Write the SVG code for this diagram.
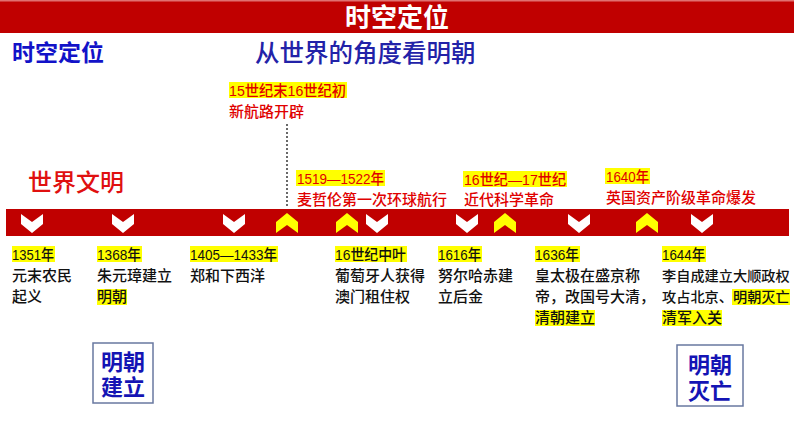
<svg xmlns="http://www.w3.org/2000/svg" xmlns:xlink="http://www.w3.org/1999/xlink" width="794" height="447" viewBox="0 0 794 447">
  <style>
    text { font-family: "Liberation Sans", "Noto Sans CJK SC", sans-serif; }
    .hdr { font-size: 26px; font-weight: bold; fill: #ffffff; }
    .blueB { font-size: 23px; font-weight: bold; fill: #1212c8; }
    .blueT { font-size: 24.5px; font-weight: 500; fill: #2222a8; }
    .world { font-size: 24px; font-weight: 500; fill: #e01010; }
    .red { font-size: 15px; font-weight: 500; fill: #e00000; }
    .blk { font-size: 15px; font-weight: 500; fill: #111111; }
    .blkS { font-size: 14.2px; font-weight: 500; fill: #111111; }
    .hl { fill: #ffff00; }
    .box { fill: #ffffff; stroke: #6878a0; stroke-width: 1.5; }
    .boxT { font-size: 22px; font-weight: bold; fill: #1414b4; }
    .band { fill: #c00000; }
    .dot { stroke: #444444; stroke-width: 1.6; stroke-dasharray: 2 2; fill: none; }
  </style>
  <defs>
    <path id="down" d="M-11,0 L0,8 L11,0 L11,10 L0,19 L-11,10 Z" fill="#ffffff"/>
    <path id="up" d="M0,0 L11,9 L11,20 L0,12 L-11,20 L-11,9 Z" fill="#ffff00"/>
  </defs>

  <rect x="0" y="0" width="794" height="447" fill="#ffffff"/>

  <g id="header">
    <rect x="0" y="0" width="794" height="33" fill="#c00000"/>
    <rect x="0" y="0" width="794" height="1.5" fill="#e07070"/>
    <text class="hdr" x="397" y="27" text-anchor="middle">时空定位</text>
  </g>

  <g id="titles">
    <text class="blueB" x="12" y="61">时空定位</text>
    <text class="blueT" x="255" y="62">从世界的角度看明朝</text>
    <text class="world" x="28" y="191">世界文明</text>
  </g>

  <g id="timeline">
    <rect class="band" x="6" y="209" width="783" height="27"/>
    <use xlink:href="#down" x="32" y="214"/>
    <use xlink:href="#down" x="123" y="214"/>
    <use xlink:href="#down" x="234" y="214"/>
    <use xlink:href="#down" x="377" y="214"/>
    <use xlink:href="#down" x="467" y="214"/>
    <use xlink:href="#down" x="579" y="214"/>
    <use xlink:href="#down" x="702" y="214"/>
    <use xlink:href="#up" x="287" y="213"/>
    <use xlink:href="#up" x="347" y="213"/>
    <use xlink:href="#up" x="505" y="213"/>
    <use xlink:href="#up" x="647" y="213"/>
  </g>

  <g id="connectors">
    <line class="dot" x1="287" y1="124" x2="287" y2="206"/>
  </g>

  <g id="w-new-route">
    <rect class="hl" x="229" y="82" width="118" height="16"/>
    <text class="red" x="229" y="96" textLength="117" lengthAdjust="spacingAndGlyphs">15世纪末16世纪初</text>
    <text class="red" x="229" y="117">新航路开辟</text>
  </g>
  <g id="w-magellan">
    <rect class="hl" x="296" y="170" width="89" height="16"/>
    <text class="red" x="297" y="184" textLength="87" lengthAdjust="spacingAndGlyphs">1519—1522年</text>
    <text class="red" x="297" y="205">麦哲伦第一次环球航行</text>
  </g>
  <g id="w-science">
    <rect class="hl" x="463" y="171" width="104" height="16"/>
    <text class="red" x="464" y="185" textLength="102" lengthAdjust="spacingAndGlyphs">16世纪—17世纪</text>
    <text class="red" x="464" y="205">近代科学革命</text>
  </g>
  <g id="w-english">
    <rect class="hl" x="605" y="168" width="45" height="16"/>
    <text class="red" x="606" y="182" textLength="43" lengthAdjust="spacingAndGlyphs">1640年</text>
    <text class="red" x="606" y="203">英国资产阶级革命爆发</text>
  </g>

  <g id="c-1351">
    <rect class="hl" x="12" y="246" width="43" height="16"/>
    <text class="blk" x="12" y="260" textLength="42" lengthAdjust="spacingAndGlyphs">1351年</text>
    <text class="blk" x="12" y="281">元末农民</text>
    <text class="blk" x="12" y="302">起义</text>
  </g>
  <g id="c-1368">
    <rect class="hl" x="97" y="246" width="45" height="16"/>
    <text class="blk" x="97" y="260" textLength="44" lengthAdjust="spacingAndGlyphs">1368年</text>
    <text class="blk" x="97" y="281">朱元璋建立</text>
    <rect class="hl" x="97" y="289" width="30" height="16"/>
    <text class="blk" x="97" y="302">明朝</text>
  </g>
  <g id="c-1405">
    <rect class="hl" x="190" y="246" width="88" height="16"/>
    <text class="blk" x="190" y="260" textLength="87" lengthAdjust="spacingAndGlyphs">1405—1433年</text>
    <text class="blk" x="190" y="281">郑和下西洋</text>
  </g>
  <g id="c-16c">
    <rect class="hl" x="335" y="246" width="72" height="16"/>
    <text class="blk" x="335" y="260" textLength="71" lengthAdjust="spacingAndGlyphs">16世纪中叶</text>
    <text class="blk" x="335" y="281">葡萄牙人获得</text>
    <text class="blk" x="335" y="302">澳门租住权</text>
  </g>
  <g id="c-1616">
    <rect class="hl" x="438" y="246" width="44" height="16"/>
    <text class="blk" x="438" y="260" textLength="43" lengthAdjust="spacingAndGlyphs">1616年</text>
    <text class="blk" x="438" y="281">努尔哈赤建</text>
    <text class="blk" x="438" y="302">立后金</text>
  </g>
  <g id="c-1636">
    <rect class="hl" x="535" y="246" width="45" height="16"/>
    <text class="blk" x="535" y="260" textLength="44" lengthAdjust="spacingAndGlyphs">1636年</text>
    <text class="blk" x="535" y="281">皇太极在盛京称</text>
    <text class="blk" x="535" y="302">帝，改国号大清，</text>
    <rect class="hl" x="535" y="310" width="60" height="16"/>
    <text class="blk" x="535" y="323">清朝建立</text>
  </g>
  <g id="c-1644">
    <rect class="hl" x="662" y="246" width="44" height="16"/>
    <text class="blk" x="662" y="260" textLength="43" lengthAdjust="spacingAndGlyphs">1644年</text>
    <text class="blkS" x="662" y="281">李自成建立大顺政权</text>
    <rect class="hl" x="732" y="289" width="58" height="16"/>
    <text class="blkS" x="662" y="302">攻占北京、明朝灭亡</text>
    <rect class="hl" x="662" y="310" width="60" height="16"/>
    <text class="blk" x="662" y="323">清军入关</text>
  </g>

  <g id="box-ming-founded">
    <rect class="box" x="93" y="343" width="60" height="60"/>
    <text class="boxT" x="123" y="370" text-anchor="middle">明朝</text>
    <text class="boxT" x="123" y="395" text-anchor="middle">建立</text>
  </g>
  <g id="box-ming-fall">
    <rect class="box" x="677" y="345" width="66" height="61"/>
    <text class="boxT" x="710" y="373" text-anchor="middle">明朝</text>
    <text class="boxT" x="710" y="399" text-anchor="middle">灭亡</text>
  </g>
</svg>
